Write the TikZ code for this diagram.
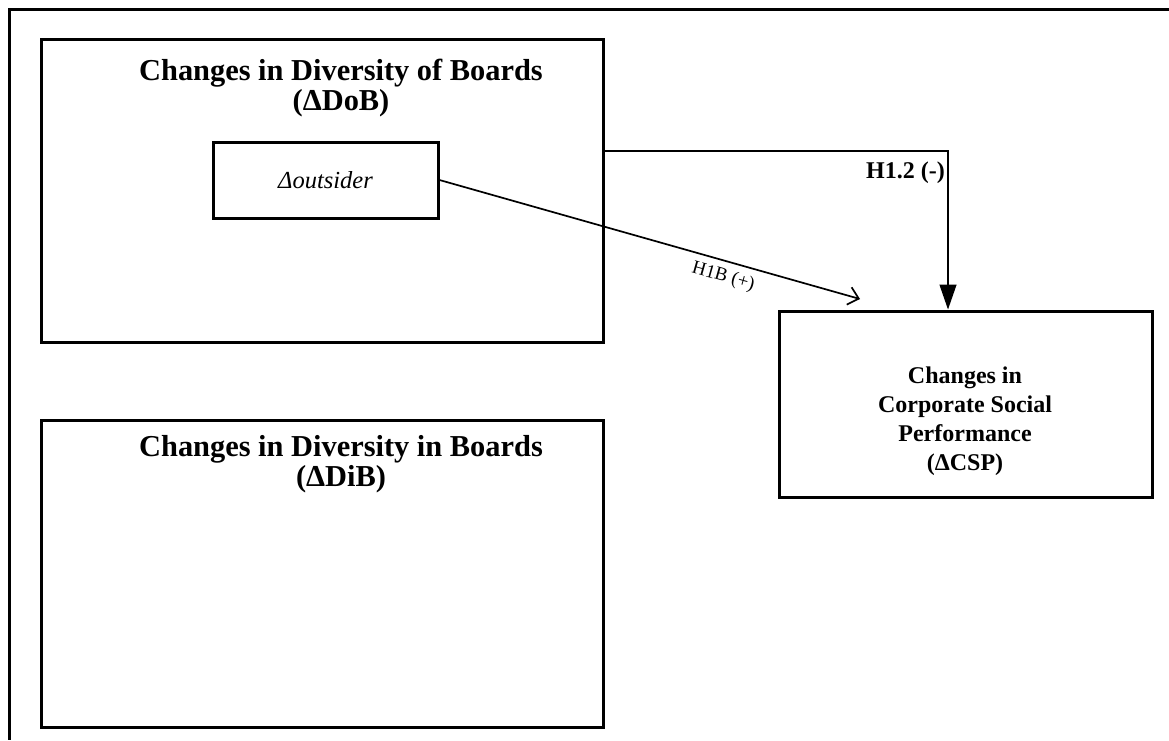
\documentclass[tikz,border=0pt]{standalone}
\usepackage{fontspec}
\setmainfont{Liberation Serif}
\usetikzlibrary{arrows.meta}
\begin{document}
\begin{tikzpicture}[x=1pt,y=-1pt,
  box/.style={draw,line width=3pt,inner sep=0pt,rectangle},
  title/.style={font=\fontsize{30.4}{30}\selectfont\bfseries,align=center,inner sep=0pt},
  csptext/.style={font=\fontsize{24}{29}\selectfont\bfseries,align=center,inner sep=0pt},
  link/.style={line width=1.7pt}]
  \useasboundingbox (0,0) rectangle (1169,740);
  % frame
  \draw[line width=3pt] (1169,9) -- (9,9) -- (9,740);
  % boxes
  \node[box,minimum width=562pt,minimum height=303pt] (dob) at (322,190.5) {};
  \node[box,minimum width=225pt,minimum height=76pt,font=\fontsize{24.5}{28}\selectfont\itshape] (outsider) at (325.5,180) {Δoutsider};
  \node[box,minimum width=562pt,minimum height=307pt] (dib) at (322,573.5) {};
  \node[box,minimum width=373pt,minimum height=186pt] (csp) at (965.5,404) {};
  % titles
  \node[title] (dobtitle) at (341,88) {Changes in Diversity of Boards\\(ΔDoB)};
  \node[title] (dibtitle) at (341,464) {Changes in Diversity in Boards\\(ΔDiB)};
  \node[csptext] (csptitle) at (965,421.5) {Changes in\\Corporate Social\\Performance\\(ΔCSP)};
  % connectors
  \draw[line width=1.3pt,-{Triangle[length=25pt,width=17pt]}]
    ([yshift=-113.5pt]dob.north east) -| ([xshift=-17.5pt]csp.north);
  \node[font=\fontsize{24}{28}\selectfont\bfseries,anchor=east,inner sep=0pt] (h12) at (945,173) {H1.2 (-)};
  \coordinate (h1bend) at (860,299);
  \draw[link,-{Straight Barb[length=10pt,width=18pt]}] (outsider.east) -- (h1bend)
    node[pos=0.685,below=3pt,sloped,font=\fontsize{19}{22}\selectfont] (h1b) {H1B (+)};
\end{tikzpicture}
\end{document}
